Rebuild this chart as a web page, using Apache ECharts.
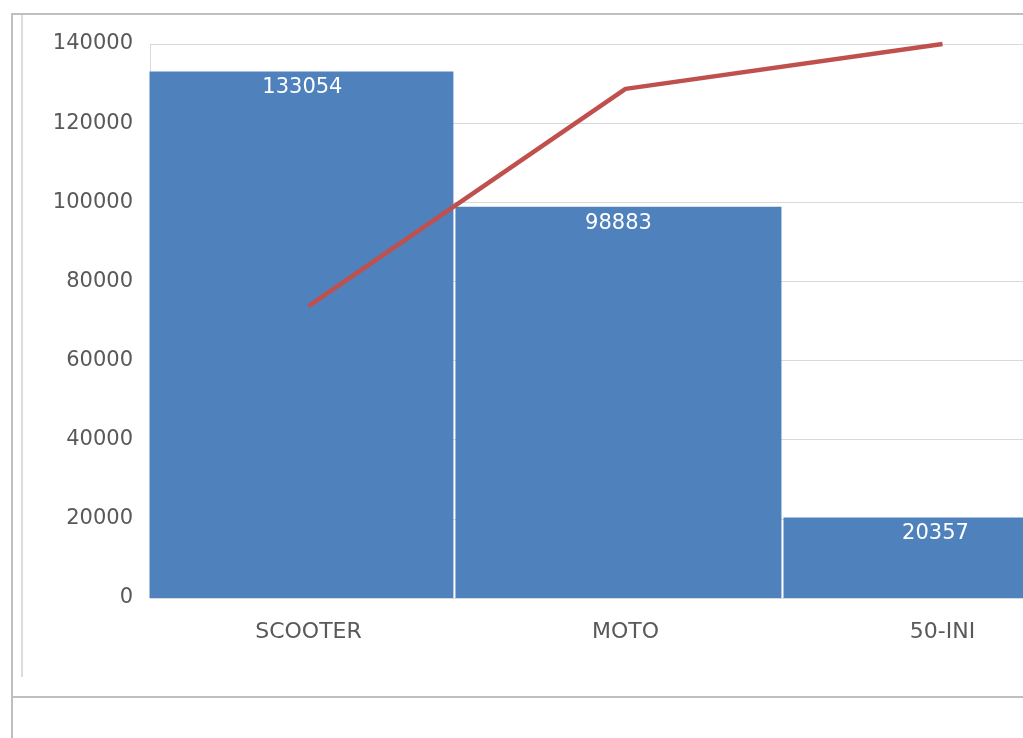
<!DOCTYPE html>
<html>
<head>
<meta charset="utf-8">
<script src="https://cdn.jsdelivr.net/npm/echarts@6/dist/echarts.min.js"></script>
<style>
html,body{margin:0;padding:0;background:#fff;}
#chart{width:1023px;height:738px;}
</style>
</head>
<body>
<div id="chart"></div>
<script>
// Data
const categories = ['SCOOTER', 'MOTO', '50-INI'];
const barValues = [133054, 98883, 20357];
const cumulativePercent = [52.7, 91.9, 100];
const yTicks = [0, 20000, 40000, 60000, 80000, 100000, 120000, 140000];

// label shift so each label sits in the centre of the visible part of its bar
const labelShift = [12, 0, -11];

const chart = echarts.init(document.getElementById('chart'));
const font = 'DejaVu Sans';
const yMin = yTicks[0], yMax = yTicks[yTicks.length - 1], yStep = yTicks[1] - yTicks[0];
const option = {
  animation: false,
  backgroundColor: '#ffffff',
  grid: { left: 150, top: 44, width: 951, height: 554, containLabel: false, outerBoundsMode: 'none' },
  xAxis: [
    {
      type: 'category',
      data: categories,
      position: 'bottom',
      axisLine: { show: true, lineStyle: { color: '#d9d9d9', width: 1 } },
      axisTick: { show: false },
      axisLabel: { color: '#595959', fontFamily: font, fontSize: 22, margin: 23 },
      splitLine: { show: false }
    },
    {
      type: 'value',
      show: false,
      min: -0.428,
      max: 2.471,
      axisLine: { show: false },
      splitLine: { show: false }
    }
  ],
  yAxis: [
    {
      type: 'value',
      min: yMin, max: yMax, interval: yStep,
      axisLine: { show: true, onZero: false, lineStyle: { color: '#d9d9d9' } },
      axisTick: { show: false },
      axisLabel: { show: false },
      splitLine: { show: true, lineStyle: { color: '#d9d9d9', width: 1 } }
    },
    {
      type: 'value',
      show: false,
      min: 0,
      max: 100,
      axisLine: { show: false, onZero: false },
      splitLine: { show: false }
    },
    {
      type: 'value',
      position: 'left',
      min: yMin, max: yMax, interval: yStep,
      z: 10,
      axisLine: { show: false, onZero: false },
      axisTick: { show: false },
      splitLine: { show: false },
      axisLabel: { color: '#595959', fontFamily: font, fontSize: 21, margin: 17, padding: [3, 0, 0, 0], formatter: v => String(v) }
    }
  ],
  graphic: [
    { type: 'rect', z: 5, shape: { x: 40, y: 30, width: 109.5, height: 580 }, style: { fill: '#ffffff' } },
    { type: 'line', z: 6, shape: { x1: 12, y1: 13, x2: 12, y2: 738 }, style: { stroke: '#bfbfbf', lineWidth: 2 } },
    { type: 'line', z: 6, shape: { x1: 12, y1: 14, x2: 1023, y2: 14 }, style: { stroke: '#bfbfbf', lineWidth: 2 } },
    { type: 'line', z: 6, shape: { x1: 12, y1: 697, x2: 1023, y2: 697 }, style: { stroke: '#bfbfbf', lineWidth: 2 } },
    { type: 'line', z: 6, shape: { x1: 22, y1: 15, x2: 22, y2: 677 }, style: { stroke: '#dcdcdc', lineWidth: 2 } }
  ],
  series: [
    {
      type: 'bar',
      xAxisIndex: 1,
      yAxisIndex: 0,
      data: barValues.map((v, i) => ({ value: [i, v], label: { offset: [labelShift[i], 0] } })),
      barWidth: 326,
      itemStyle: { color: '#4F81BD' },
      label: {
        show: true,
        position: 'insideTop',
        distance: 6,
        color: '#ffffff',
        fontFamily: font,
        fontSize: 21,
        formatter: p => String(p.value[1])
      },
      z: 2
    },
    {
      type: 'line',
      xAxisIndex: 0,
      yAxisIndex: 1,
      data: cumulativePercent,
      symbol: 'none',
      clip: false,
      lineStyle: { color: '#C0504D', width: 4.5, cap: 'butt' },
      z: 3
    }
  ]
};
chart.setOption(option);
</script>
</body>
</html>
